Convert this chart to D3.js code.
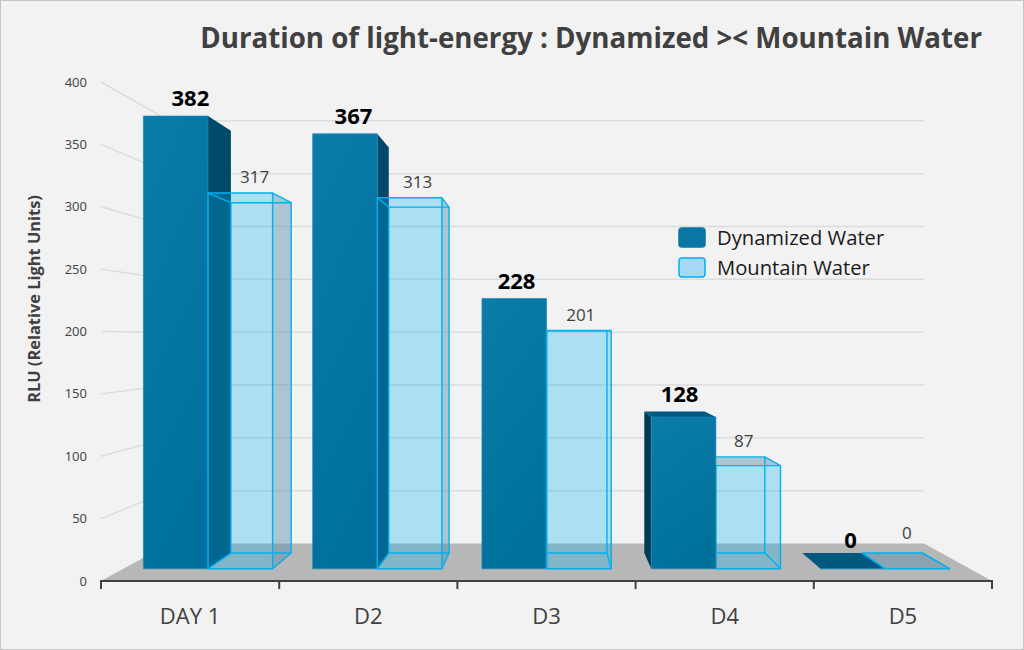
<!DOCTYPE html>
<html>
<head>
<meta charset="utf-8">
<script src="https://cdn.jsdelivr.net/npm/d3@7"></script>
<style>
html, body { margin: 0; padding: 0; background: #f2f2f2; overflow: hidden; }
text { font-family: "Open Sans", sans-serif; }
</style>
</head>
<body>
<svg class="graph" width="1024" height="650"></svg>
<script>
var categories = ['DAY 1', 'D2', 'D3', 'D4', 'D5'];
var seriesNames = ['Dynamized Water', 'Mountain Water'];
var dynamized = [382, 367, 228, 128, 0];
var mountain = [317, 313, 201, 87, 0];
var yTicks = [0, 50, 100, 150, 200, 250, 300, 350, 400];

var svg = d3.select('.graph');
svg.append('rect').attr('width', 1024).attr('height', 650)
  .attr('fill', '#f2f2f2').attr('stroke', '#c4c4c4').attr('stroke-width', 2);

var defs = svg.append('defs');
var grad = defs.append('linearGradient').attr('id', 'dynFront')
  .attr('x1', 0).attr('y1', 0).attr('x2', 0.3).attr('y2', 1);
grad.append('stop').attr('offset', '0%').attr('stop-color', '#0b7ca8');
grad.append('stop').attr('offset', '100%').attr('stop-color', '#00709d');

var x = d3.scaleBand().domain(categories).range([101, 992]);
var x1 = d3.scaleBand().domain(seriesNames).range([0, x.bandwidth()]).paddingOuter(0.31);
var y = d3.scaleLinear().domain([0, 400]).range([581, 82]);

// perspective: everything shrinks toward the vanishing point as it goes back
var vx = 548, vy = 336;
var depthWall = 0.847, depthFront = 0.95, depthBack = 0.886, depthLabel = 0.915;
function px(v, s) { return vx + (v - vx) * s; }
function py(v, s) { return vy + (v - vy) * s; }
function pt(v, w, s) { return [px(v, s), py(w, s)]; }
var line = d3.line();
function poly(g, pts) { return g.append('path').attr('d', line(pts) + 'Z'); }

// walls and floor
var x0 = x.range()[0], x9 = x.range()[1], y0 = y(0);
poly(svg, [[x0, y0], pt(x0, y0, depthWall), pt(x9, y0, depthWall), [x9, y0]]).attr('fill', '#b7b7b7');

var grid = svg.append('g').attr('class', 'grid');
yTicks.filter(function(t) { return t > 0; }).forEach(function(t) {
  grid.append('path')
    .attr('d', line([[x0, y(t)], pt(x0, y(t), depthWall), pt(x9, y(t), depthWall)]))
    .attr('fill', 'none').attr('stroke', '#dcdcdc').attr('stroke-width', 1.5);
});

// y labels
svg.append('g').selectAll('text').data(yTicks).join('text')
  .attr('x', 87).attr('y', function(d) { return y(d); })
  .attr('dy', '0.35em').attr('text-anchor', 'end')
  .attr('font-size', 13).attr('fill', '#404040')
  .text(function(d) { return d; });

// x axis
var axis = svg.append('g').attr('transform', 'translate(0,' + y0 + ')')
  .call(d3.axisBottom(x).tickValues([]).tickSize(0));
axis.select('.domain').remove();
axis.append('path')
  .attr('d', 'M' + x0 + ',8V0H' + x9 + 'V8')
  .attr('fill', 'none').attr('stroke', '#404040').attr('stroke-width', 2);
categories.slice(1).forEach(function(c) {
  axis.append('line').attr('x1', x(c)).attr('x2', x(c)).attr('y1', 0).attr('y2', 8)
    .attr('stroke', '#404040').attr('stroke-width', 2);
});
svg.append('g').selectAll('text').data(categories).join('text')
  .attr('x', function(d) { return x(d) + x.bandwidth() / 2; })
  .attr('y', 624).attr('text-anchor', 'middle')
  .attr('font-size', 22).attr('fill', '#404040')
  .text(function(d) { return d; });

function box(c, name, value) {
  var l = x(c) + x1(name), r = l + x1.bandwidth(), t = y(value);
  return {
    fl: pt(l, t, depthFront), fr: pt(r, t, depthFront),
    bl: pt(l, y0, depthFront), br: pt(r, y0, depthFront),
    tl: pt(l, t, depthBack), tr: pt(r, t, depthBack),
    ul: pt(l, y0, depthBack), ur: pt(r, y0, depthBack)
  };
}

function drawSolid(g, b) {
  if (b.tr[0] > b.fr[0]) poly(g, [b.fr, b.tr, b.ur, b.br]).attr('fill', '#004a69');
  if (b.tl[0] < b.fl[0]) poly(g, [b.fl, b.tl, b.ul, b.bl]).attr('fill', '#003a55');
  if (b.tl[1] <= b.fl[1]) poly(g, [b.fl, b.fr, b.tr, b.tl]).attr('fill', '#005a80');
  poly(g, [b.fl, b.fr, b.br, b.bl]).attr('fill', 'url(#dynFront)').attr('stroke', '#1d8ab5').attr('stroke-width', 0.7);
}

function drawGlass(g, m) {
  var cyan = '#00b0f0';
  if (m.tr[0] > m.fr[0]) poly(g, [m.fr, m.tr, m.ur, m.br]).attr('fill', '#4a8aa8').attr('fill-opacity', 0.42);
  if (m.tl[1] <= m.fl[1]) poly(g, [m.fl, m.fr, m.tr, m.tl]).attr('fill', '#4a8aa8').attr('fill-opacity', 0.42);
  poly(g, [m.fl, m.fr, m.br, m.bl]).attr('fill', cyan).attr('fill-opacity', 0.29);
  [
    [m.tl, m.tr, m.ur, m.ul, m.tl],
    [m.fl, m.fr, m.br, m.bl, m.fl],
    [m.fl, m.tl], [m.fr, m.tr], [m.bl, m.ul], [m.br, m.ur]
  ].forEach(function(seg) {
    g.append('path').attr('d', line(seg)).attr('fill', 'none')
      .attr('stroke', cyan).attr('stroke-width', 1.4).attr('stroke-linejoin', 'round');
  });
}

var bars = svg.append('g').attr('class', 'bars');

categories.forEach(function(c, i) {
  var b = box(c, seriesNames[0], dynamized[i]);
  var m = box(c, seriesNames[1], mountain[i]);
  var g = bars.append('g');
  // right of the vanishing point the solid bar stands in front of the glass one
  if (b.fr[0] > vx && dynamized[i] > 0) {
    drawGlass(g, m);
    drawSolid(g, b);
  } else {
    drawSolid(g, b);
    drawGlass(g, m);
  }

  // value labels
  var dl = x(c) + x1(seriesNames[0]) + x1.bandwidth() / 2;
  svg.append('text').attr('class', 'annot')
    .attr('x', px(dl, depthLabel) + (dynamized[i] === 0 ? 9 : 1))
    .attr('y', Math.min(b.fl[1], b.tl[1]) - (dynamized[i] === 0 ? 5 : 10))
    .attr('text-anchor', 'middle').attr('font-size', 22).attr('font-weight', 700).attr('fill', '#000')
    .text(dynamized[i]);
  var ml = x(c) + x1(seriesNames[1]) + x1.bandwidth() / 2;
  svg.append('text').attr('class', 'annot')
    .attr('x', px(ml, depthLabel) + 3)
    .attr('y', Math.min(m.fl[1], m.tl[1]) - (mountain[i] === 0 ? 14 : 10))
    .attr('text-anchor', 'middle').attr('font-size', 17).attr('fill', '#404040')
    .text(mountain[i]);
});

// title
svg.append('text').attr('x', 982).attr('y', 48).attr('text-anchor', 'end')
  .attr('font-size', 27.7).attr('font-weight', 700).attr('fill', '#404040')
  .text('Duration of light-energy : Dynamized >< Mountain Water');

// y title
svg.append('text').attr('transform', 'translate(40,299) rotate(-90)').attr('text-anchor', 'middle')
  .attr('font-size', 16.4).attr('font-weight', 700).attr('fill', '#404040')
  .text('RLU (Relative Light Units)');

// legend
var legend = svg.append('g').selectAll('g').data(seriesNames).join('g')
  .attr('transform', function(d, i) { return 'translate(679,' + (228 + i * 30) + ')'; });
legend.append('rect').attr('width', 26).attr('height', 19).attr('rx', 3)
  .attr('fill', function(d, i) { return i ? '#a4daf4' : '#0a76a3'; })
  .attr('stroke', function(d, i) { return i ? '#00b0f0' : '#0a76a3'; })
  .attr('stroke-width', 1.5);
legend.append('text').attr('x', 38).attr('y', 17)
  .attr('font-size', 20.2).attr('fill', '#1a1a1a')
  .text(function(d) { return d; });
</script>
</body>
</html>
